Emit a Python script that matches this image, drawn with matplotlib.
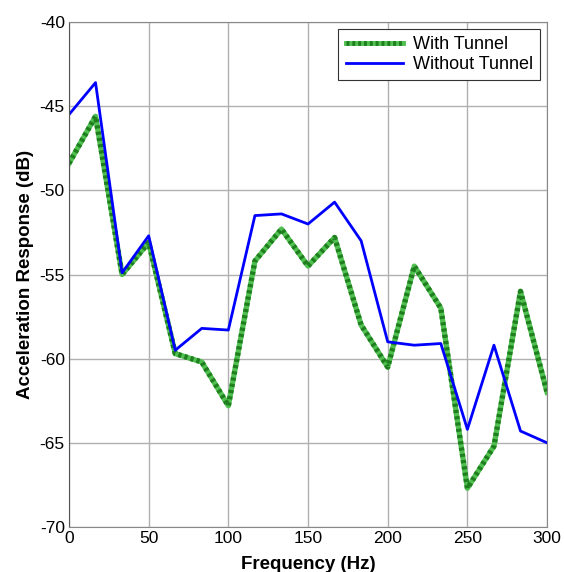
import matplotlib.pyplot as plt
from matplotlib.lines import Line2D

plt.rcParams['font.family'] = ['Liberation Sans', 'DejaVu Sans']
plt.rcParams['axes.unicode_minus'] = False

freq = [0, 16.67, 33.33, 50, 66.67, 83.33, 100, 116.67, 133.33, 150,
        166.67, 183.33, 200, 216.67, 233.33, 250, 266.67, 283.33, 300]
with_tunnel = [-48.4, -45.6, -55.0, -53.1, -59.7, -60.2, -62.8, -54.2, -52.3, -54.5,
               -52.8, -58.0, -60.5, -54.5, -57.0, -67.7, -65.2, -56.0, -62.0]
without_tunnel = [-45.5, -43.6, -54.9, -52.7, -59.5, -58.2, -58.3, -51.5, -51.4, -52.0,
                  -50.7, -53.0, -59.0, -59.2, -59.1, -64.2, -59.2, -64.3, -65.0]

GREEN_LT = '#4fbf4f'
GREEN_DK = '#1f7f1f'

fig = plt.figure(figsize=(5.64, 5.72), dpi=100)
ax = fig.add_axes([0.1223, 0.0787, 0.8477, 0.8828])

# green: light base line with dark dots on top
ax.plot(freq, with_tunnel, color=GREEN_LT, lw=3.8)
ax.plot(freq, with_tunnel, color=GREEN_DK, lw=3.8, ls=(0, (0.6, 0.6)))
ax.plot(freq, without_tunnel, color='#0000ff', lw=2)

ax.set_xlim(0, 300)
ax.set_ylim(-70, -40)
ax.set_xticks(range(0, 301, 50))
ax.set_yticks(range(-70, -39, 5))
ax.grid(True, color='#b0b0b0', lw=1)
ax.set_axisbelow(True)
ax.tick_params(length=0, labelsize=12.5, pad=3)
for s in ax.spines.values():
    s.set_color('#888888')
ax.spines['left'].set_color('#555555')

ax.set_xlabel('Frequency (Hz)', fontsize=13.5, fontweight='bold', labelpad=7)
ax.set_ylabel('Acceleration Response (dB)', fontsize=13.5, fontweight='bold', labelpad=4)

h1 = (Line2D([], [], color=GREEN_LT, lw=3.5),
      Line2D([], [], color=GREEN_DK, lw=3.5, ls=(0, (0.6, 0.6))))
h2 = Line2D([], [], color='#0000ff', lw=2)
leg = ax.legend([h1, h2], ['With Tunnel', 'Without Tunnel'], loc='upper right',
                fontsize=13, fancybox=False, framealpha=1, edgecolor='#333333',
                handlelength=3.2, handletextpad=0.5, borderaxespad=0.4,
                labelspacing=0.15, borderpad=0.4)
leg.get_frame().set_linewidth(0.8)

fig.savefig('out.png', dpi=100)
